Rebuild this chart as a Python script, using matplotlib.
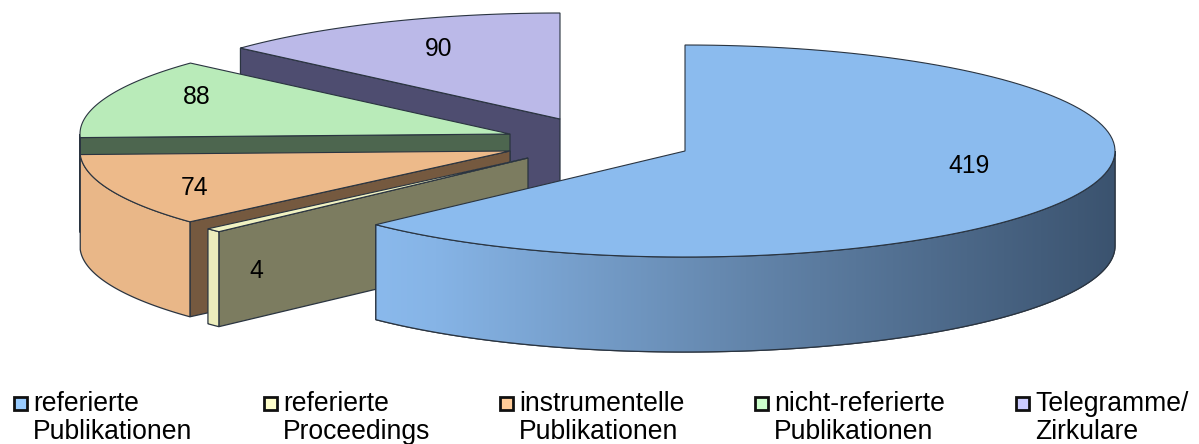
"""Exploded 3D pie of publication counts, drawn on a pixel-scaled axes."""

import matplotlib

matplotlib.use("Agg")
import matplotlib.pyplot as plt
from matplotlib.colors import LinearSegmentedColormap
from matplotlib.patches import Polygon, Rectangle
import numpy as np

CATEGORIES = [
    "referierte\nPublikationen",
    "referierte\nProceedings",
    "instrumentelle\nPublikationen",
    "nicht-referierte\nPublikationen",
    "Telegramme/\nZirkulare",
]
VALUES = [419, 4, 74, 88, 90]

# Slice styling, same order as VALUES.
CENTERS = [(685, 151), (528, 158), (510, 151), (510, 134), (560, 119)]
TOP_COLORS = ["#8BBBEE", "#F1F2C2", "#EDBA8A", "#B9EBB9", "#BBB9E8"]
SIDE_COLORS = ["#8BBBEE", "#ECEDBC", "#E9B788", "#4D664F", "#4E4D70"]
CUT_COLORS = ["#3C5470", "#7C7C60", "#75593F", "#4D664F", "#4E4D70"]
LABEL_POS = [(969, 166), (256, 271), (195, 188), (197, 97), (439, 49)]
LEGEND_COLORS = ["#99CCFF", "#FFFFCC", "#FFCC99", "#CCFFCC", "#CCCCFF"]
LEGEND_X = [14, 264, 500, 755, 1016]

# Perspective correction of the slice boundaries, in degrees.
EDGE_NUDGE = [0, 2.5, 2.5, 3, 0, 0]

RX = 430
RY = 106
DEPTH = 95
EDGE = "#2A3440"


def rim(center, start, end, n=120):
    """Points along the ellipse, with angles clockwise from 12 o'clock."""
    t = np.radians(np.linspace(start, end, n))
    return np.column_stack(
        [center[0] + RX * np.sin(t), center[1] - RY * np.cos(t)]
    )


def draw_outer_wall(axes, center, start, end, color, gradient=None):
    # Only the part of the rim facing the viewer has a visible wall.
    a, b = max(start, 90), min(end, 270)
    if a >= b:
        return
    arc = rim(center, a, b)
    outline = np.vstack([arc, (arc + [0, DEPTH])[::-1]])
    wall = Polygon(
        outline, closed=True, facecolor=color, edgecolor=EDGE, linewidth=0.9
    )
    axes.add_patch(wall)
    if gradient is not None:
        image = axes.imshow(
            np.linspace(0, 1, 256).reshape(1, -1),
            extent=(arc[:, 0].min(), arc[:, 0].max(), 444, 0),
            cmap=gradient, aspect="auto", zorder=1,
        )
        image.set_clip_path(wall)
        axes.add_patch(Polygon(
            outline, closed=True, fill=False, edgecolor=EDGE, linewidth=0.9
        ))


def draw_top(axes, center, start, end, color):
    axes.add_patch(Polygon(
        np.vstack([[center], rim(center, start, end)]), closed=True,
        facecolor=color, edgecolor=EDGE, linewidth=0.8,
    ))


def draw_cut_face(axes, center, angle, color):
    # The cut face at a slice's first boundary looks towards the viewer.
    tip = rim(center, angle, angle, 1)[0]
    face = [center, tip, tip + [0, DEPTH], (center[0], center[1] + DEPTH)]
    axes.add_patch(Polygon(
        face, closed=True, facecolor=color, edgecolor=EDGE, linewidth=0.9
    ))


def main():
    plt.rcParams["font.family"] = ["Liberation Sans", "DejaVu Sans"]
    figure = plt.figure(figsize=(11.99, 4.44), dpi=100)
    axes = figure.add_axes([0, 0, 1, 1])

    cumulative = np.cumsum([0] + VALUES) / sum(VALUES) * 360
    edges = cumulative + np.array(EDGE_NUDGE)

    shade = LinearSegmentedColormap.from_list(
        "wall", [(0, "#8AB9EC"), (0.08, "#86B4E6"), (0.5, "#6385AB"),
                 (1, "#3B536F")]
    )
    # Back slices first, the big front slice last.
    for i in [4, 3, 2, 1, 0]:
        start, end = edges[i], edges[i + 1]
        if i > 0:
            draw_cut_face(axes, CENTERS[i], start, CUT_COLORS[i])
        draw_outer_wall(
            axes, CENTERS[i], start, end, SIDE_COLORS[i],
            shade if i == 0 else None,
        )
        draw_top(axes, CENTERS[i], start, end, TOP_COLORS[i])

    for value, (x, y) in zip(VALUES, LABEL_POS):
        axes.text(x, y, str(value), fontsize=17.8, color="black",
                  ha="center", va="center", zorder=100)

    for name, color, x in zip(CATEGORIES, LEGEND_COLORS, LEGEND_X):
        first, second = name.split("\n")
        axes.add_patch(Rectangle(
            (x, 397), 13, 13, facecolor=color, edgecolor="#101010",
            linewidth=2.0, zorder=100,
        ))
        axes.text(x + 19, 411, first, fontsize=19.1, color="black",
                  ha="left", va="baseline", zorder=100)
        axes.text(x + 19, 439, second, fontsize=19.1, color="black",
                  ha="left", va="baseline", zorder=100)

    axes.set_xlim(0, 1199)
    axes.set_ylim(444, 0)
    axes.axis("off")
    figure.savefig("out.png", dpi=100, facecolor="white")


if __name__ == "__main__":
    main()
